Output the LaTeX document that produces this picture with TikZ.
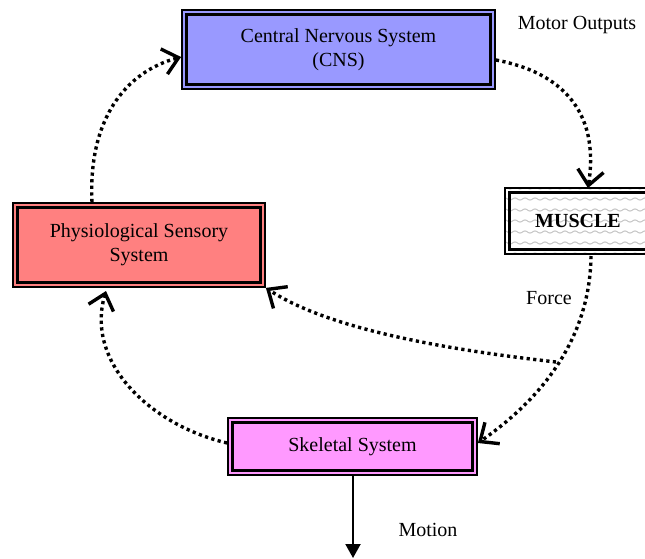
\documentclass[tikz,border=0pt]{standalone}
\usepackage{fontspec}
\setmainfont{Liberation Serif}
\usetikzlibrary{arrows.meta}
\definecolor{cnsblue}{HTML}{9999FF}
\definecolor{physred}{HTML}{FF8080}
\definecolor{skelpink}{HTML}{FF99FF}
\tikzset{
  box/.style={draw, line width=1.8pt, inner sep=0pt, align=center,
    font=\fontsize{20}{24}\selectfont},
  innerline/.style={line width=3.2pt},
  dotarrow/.style={line width=3.4pt, dash pattern=on 3.2pt off 3.4pt,
    -{Straight Barb[length=15pt,width=26pt,line width=3.4pt]}},
  lbl/.style={font=\fontsize{20}{24}\selectfont, inner sep=0pt}
}
\begin{document}
\begin{tikzpicture}[x=1pt,y=-1pt]
\useasboundingbox (0,0) rectangle (645,558);
% muscle texture
\begin{scope}
  \clip (505,188) rectangle (651,254);
  \fill[white] (505,188) rectangle (651,254);
  \foreach \y in {190,201,...,260}{
    \draw[gray!45, line width=1pt, rounded corners=2.5pt] (500,\y) \foreach \i in {1,...,16}{ -- ++(5,-4) -- ++(5,4) };
  }
\end{scope}
% boxes
\node[box, fill=cnsblue, minimum width=313pt, minimum height=79pt] (cns) at (338.5,49.5)
  {Central Nervous System\\(CNS)};
\node[box, fill=physred, minimum width=252pt, minimum height=84pt] (phys) at (139,245)
  {Physiological Sensory\\System};
\node[box, fill=skelpink, minimum width=249pt, minimum height=57pt] (skel) at (352.5,446.5)
  {Skeletal System};
\node[box, minimum width=146pt, minimum height=66pt] (musc) at (578,221)
  {\bfseries MUSCLE};
\foreach \n in {cns,phys,skel,musc}
  \draw[innerline] ([shift={(5.5pt,-5.5pt)}]\n.north west) rectangle ([shift={(-5.5pt,5.5pt)}]\n.south east);
% labels
\node[lbl] (mo) at (577,25) {Motor Outputs};
\node[lbl] (fo) at (549,298) {Force};
\node[lbl] (mt) at (428,530) {Motion};
% connectors
\coordinate (p1s) at (92,203);
\coordinate (p1e) at (176,57);
\draw[dotarrow] (phys.north -| p1s) .. controls (88,120) and (125,72) .. (cns.west |- p1e);
\coordinate (c1s) at (495,60);
\draw[dotarrow] (cns.east |- c1s) .. controls (560,72) and (600,110) .. (588,188);
\draw[dotarrow] (591,256) .. controls (590,340) and (540,400) .. (skel.east |- 0,443);
\coordinate (j) at (556,362);
\draw[dotarrow] (j) .. controls (450,350) and (330,330) .. (phys.south east);
\draw[dotarrow] (skel.west |- 0,443) .. controls (150,425) and (85,362) .. (106,291);
\coordinate (mend) at (353,558);
\draw[line width=2pt, -{Triangle[length=14pt,width=15pt]}] (skel.south -| mend) -- (mend);
\end{tikzpicture}
\end{document}
